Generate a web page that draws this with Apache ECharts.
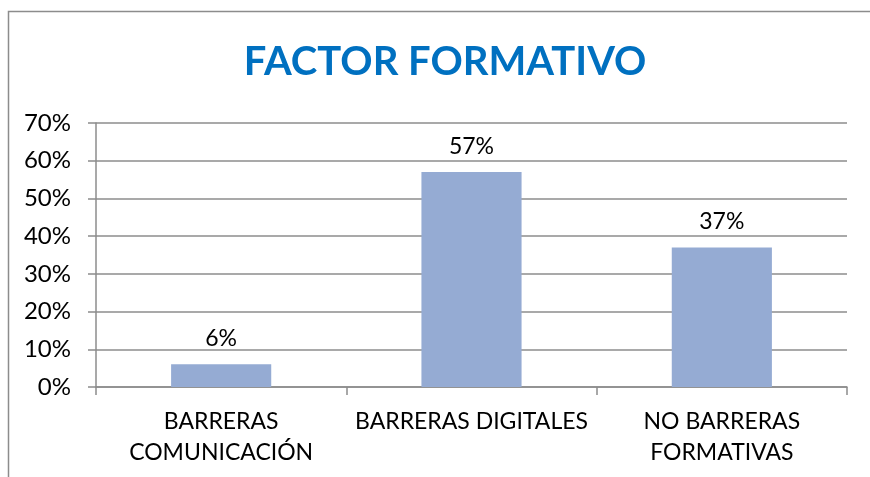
<!DOCTYPE html>
<html>
<head>
<meta charset="utf-8">
<script src="https://cdn.jsdelivr.net/npm/echarts@6/dist/echarts.min.js"></script>
<style>
html,body{margin:0;padding:0;background:#fff;}
#chart{width:870px;height:477px;}
</style>
</head>
<body>
<div id="chart"></div>
<script>
const title = 'FACTOR FORMATIVO';
const categories = ['BARRERAS\nCOMUNICACIÓN', 'BARRERAS DIGITALES', 'NO BARRERAS\nFORMATIVAS'];
const values = [6, 57, 37];
const yTicks = [0, 10, 20, 30, 40, 50, 60, 70];

const chart = echarts.init(document.getElementById('chart'), null, {renderer: 'canvas'});
const FONT = 'Lato';
chart.setOption({
  animation: false,
  backgroundColor: '#ffffff',
  graphic: [{
    type: 'rect', z: -1,
    shape: {x: 8.5, y: 11.5, width: 900, height: 500},
    style: {fill: 'none', stroke: '#8c8c8c', lineWidth: 1.5}
  }],
  title: {
    text: title, left: 440, textAlign: 'center', top: 37, itemGap: 0,
    textStyle: {fontFamily: FONT, fontWeight: 'bold', fontSize: 40, color: '#0070C0'}
  },
  grid: {left: 96, right: 23, top: 123, bottom: 90, containLabel: false},
  xAxis: {
    type: 'category', data: categories,
    axisLine: {lineStyle: {color: '#8c8c8c', width: 1.5}},
    axisTick: {show: true, length: 8, lineStyle: {color: '#8c8c8c', width: 1.5}},
    axisLabel: {fontFamily: FONT, fontSize: 23, color: '#000', margin: 19, lineHeight: 31, interval: 0}
  },
  yAxis: {
    type: 'value', min: yTicks[0], max: yTicks[yTicks.length - 1], interval: 10,
    axisLine: {show: true, lineStyle: {color: '#8c8c8c', width: 1.5}},
    axisTick: {show: true, length: 8, lineStyle: {color: '#8c8c8c', width: 1.5}},
    splitLine: {lineStyle: {color: '#8c8c8c', width: 1.5}},
    axisLabel: {fontFamily: FONT, fontSize: 24, color: '#000', margin: 25, formatter: v => v + '%'}
  },
  series: [{
    type: 'bar', data: values, barWidth: '40%',
    itemStyle: {color: '#95ABD3'},
    label: {show: true, position: 'top', distance: 14, fontFamily: FONT, fontSize: 23, color: '#000', formatter: p => p.value + '%'}
  }]
});
</script>
</body>
</html>
